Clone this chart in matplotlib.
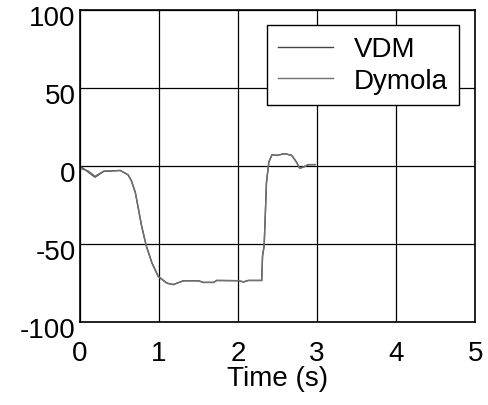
import matplotlib.pyplot as plt
from matplotlib import transforms

plt.rcParams['font.family'] = ['Liberation Sans', 'DejaVu Sans']

# 読み取った時系列データ
t_vdm = [0.0, 0.07, 0.19, 0.30, 0.51, 0.61, 0.65, 0.70, 0.74, 0.78, 0.84, 0.91,
         0.99, 1.10, 1.18, 1.31, 1.50, 1.56, 1.69, 1.73, 2.00, 2.07, 2.13, 2.30,
         2.31, 2.33, 2.34, 2.36, 2.39, 2.43, 2.49, 2.59, 2.68, 2.74, 2.78, 2.83,
         2.89, 2.97]
y_vdm = [0.0, -2.5, -7.1, -3.4, -2.8, -5.6, -9.3, -16.8, -27.6, -38.4, -51.3, -62.0,
         -70.7, -75.0, -76.0, -73.5, -73.5, -74.6, -74.6, -73.3, -73.5, -74.3, -73.3, -73.3,
         -57.7, -51.3, -38.4, -10.3, 2.6, 7.3, 6.9, 8.0, 6.9, 2.6, -1.3, -0.6,
         0.9, 0.9]
t_dym = [0.0, 0.10, 0.19, 0.30, 0.51, 0.61, 0.65, 0.70, 0.74, 0.78, 0.84, 0.91,
         0.99, 1.10, 1.18, 1.31, 1.50, 1.56, 1.69, 1.73, 2.00, 2.07, 2.13, 2.30,
         2.31, 2.33, 2.34, 2.36, 2.39, 2.43, 2.49, 2.59, 2.68, 2.74, 2.78, 2.83,
         2.89, 2.98]
y_dym = [-1.5, -3.0, -6.5, -3.2, -2.8, -5.8, -9.5, -17.0, -27.8, -38.6, -51.5, -62.2,
         -70.9, -75.2, -76.0, -73.6, -73.6, -74.6, -74.6, -73.4, -73.5, -74.2, -73.4, -73.4,
         -57.5, -51.0, -38.0, -10.0, 2.8, 7.4, 6.8, 8.0, 6.8, 2.4, -1.4, -0.5,
         1.0, 1.0]
x_ticks = [0, 1, 2, 3, 4, 5]
y_ticks = [-100, -50, 0, 50, 100]
y_ticklabels = ['-100', '-50', '0', '50', '100']

fig = plt.figure(figsize=(4.89, 4.06), dpi=100)
ax = fig.add_axes([0.1636, 0.2044, 0.808, 0.768])

ax.plot(t_vdm, y_vdm, color='#444444', lw=1.0, label='VDM')
ax.plot(t_dym, y_dym, color='#707070', lw=1.0, label='Dymola')

ax.set_xlim(0, 5)
ax.set_ylim(-100, 100)
ax.set_xticks(x_ticks)
ax.set_yticks(y_ticks)
ax.set_yticklabels(y_ticklabels)
ax.tick_params(labelsize=20, length=0)
ax.tick_params(axis='x', pad=13)
ax.tick_params(axis='y', pad=3)
# MATLAB風にy目盛ラベルを少し下げる
offset = transforms.ScaledTranslation(0, -0.05, fig.dpi_scale_trans)
for lab in ax.get_yticklabels():
    lab.set_transform(lab.get_transform() + offset)
ax.grid(True, color='black', lw=0.9)
for sp in ax.spines.values():
    sp.set_linewidth(1.2)
ax.set_xlabel('Time (s)', fontsize=20, labelpad=-1)

leg = ax.legend(loc='upper right', bbox_to_anchor=(0.96, 0.952), fontsize=20,
                fancybox=False, framealpha=1, edgecolor='black',
                handlelength=2.0, handletextpad=0.75, borderpad=0.4,
                labelspacing=0.2, borderaxespad=0)
leg.get_frame().set_linewidth(1.0)

plt.savefig('out.png', dpi=100)
